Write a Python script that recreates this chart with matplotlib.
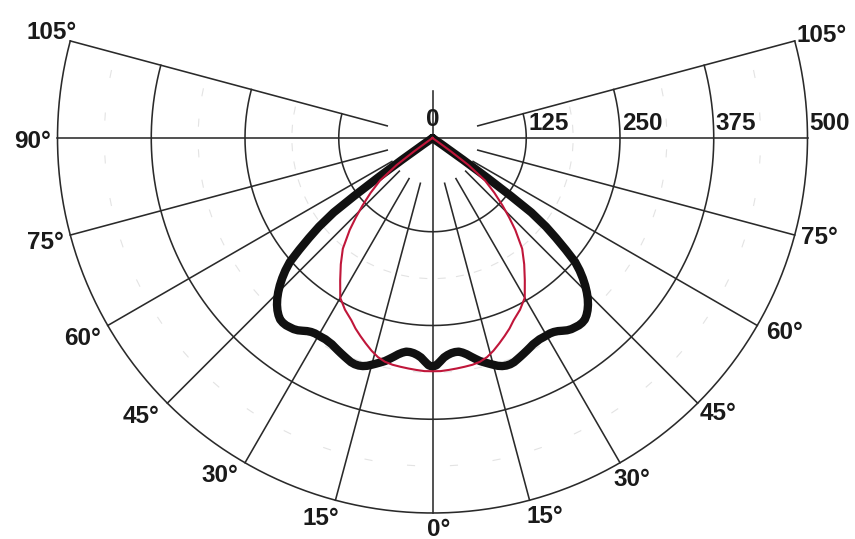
import numpy as np
import matplotlib
matplotlib.use("Agg")
import matplotlib.pyplot as plt

# photometric curves, gamma (deg from nadir) -> cd/klm
black_ang = [0, 1, 2, 3, 4, 5, 6, 7, 8, 9, 10, 11, 12, 13, 14, 15, 16, 17, 18, 19, 20,
             21, 22, 23, 24, 25, 26, 27, 28, 29, 30, 31, 32, 33, 34, 35, 36, 37, 38, 39, 40,
             41, 42, 43, 44, 45, 46, 47, 48, 49, 50, 51, 52, 53, 53.5, 54, 54.5, 55, 90]
black_val = [305, 303, 298, 293, 290, 288, 287, 287, 289, 292, 296, 300, 304, 307, 310, 313, 316, 318, 319, 319, 318,
             316, 314, 312, 310, 308, 306, 305, 304, 304, 304, 304, 305, 307, 310, 313, 315, 316, 317, 317, 316,
             313, 309, 304, 298, 291, 283, 274, 264, 252, 232, 212, 192, 165, 130, 90, 50, 15, 0]

red_ang = [0, 2, 4, 6, 8, 10, 12, 14, 16, 18, 20, 22, 24, 27, 30, 33, 36, 39, 42, 44, 46,
           48.5, 51, 53, 54, 54.5, 90]
red_val = [311, 311, 310, 309, 308, 307, 305, 301, 295, 288, 281, 274, 266, 257, 246, 226, 208, 190, 165, 147, 130,
           110, 90, 60, 30, 10, 0]

rings = [125, 250, 375, 500]
ring_labels = ["125", "250", "375", "500"]
spokes = [105, 90, 75, 60, 45, 30, 15, 0]
spoke_labels = ["105°", "90°", "75°", "60°", "45°", "30°", "15°", "0°"]

# faint marks inside the grid cells
mark_r = [187.5, 312.5, 437.5]
mark_ang = np.arange(-101.25, 102, 7.5)

# label offsets from spoke ends, in pixels (x right, y down)
right_off = {105: (27, -5), 75: (25, 2), 60: (27, 7), 45: (20, 10), 30: (12, 17), 15: (15, 16), 0: (6, 16)}
left_off = {105: (-19, -8), 90: (-25, 4), 75: (-25, 7), 60: (-25, 13), 45: (-26, 13), 30: (-25, 13), 15: (-15, 18)}

k = 500 / 375.0  # data units per pixel
cx, cy = 432.5, 138

fig = plt.figure(figsize=(8.55, 5.39), dpi=100)
ax = fig.add_axes([0, 0, 1, 1])
ax.set_xlim(-cx * k, (855 - cx) * k)
ax.set_ylim(-(539 - cy) * k, cy * k)
ax.axis("off")


def xy(g, r):
    g = np.radians(np.asarray(g, dtype=float))
    r = np.asarray(r, dtype=float)
    return r * np.sin(g), -r * np.cos(g)


grid_kw = dict(color="#2a2a2a", lw=1.15, zorder=1)

# rings
gg = np.linspace(-105, 105, 400)
for r in rings:
    x, y = xy(gg, np.full_like(gg, r))
    ax.plot(x, y, **grid_kw)

# spokes
for s in spokes:
    for sign in (1, -1):
        if s == 0 and sign == -1:
            continue
        r0 = 0 if s in (0, 90) else 62.5
        x, y = xy([sign * s, sign * s], [r0, 500])
        ax.plot(x, y, **grid_kw)
x, y = xy([180, 180], [0, 62.5])
ax.plot(x, y, **grid_kw)

# faint dashes
for r in mark_r:
    for a in mark_ang:
        half = 3.5 * k / r * 180 / np.pi
        x, y = xy([a - half, a + half], [r, r])
        ax.plot(x, y, color="#e3e3e3", lw=0.8, zorder=0)


# curves, mirrored on both sides
def full(ang, val):
    a = np.array(ang, dtype=float)
    v = np.array(val, dtype=float)
    return np.concatenate([-a[::-1], a[1:]]), np.concatenate([v[::-1], v[1:]])


ga, va = full(black_ang, black_val)
x, y = xy(ga, va)
ax.plot(x, y, color="#111111", lw=6.0, solid_joinstyle="round", solid_capstyle="round", zorder=3)

ga, va = full(red_ang, red_val)
x, y = xy(ga, va)
ax.plot(x, y, color="#c0163a", lw=1.5, zorder=4)

font = dict(family="Liberation Sans", fontsize=17.5, fontweight="bold", color="#1a1a1a")

# spoke labels
for s, lab in zip(spokes, spoke_labels):
    ex, ey = xy(s, 500)
    if s in right_off:
        dx, dy = right_off[s]
        ax.text(ex + dx * k, ey - dy * k, lab, ha="center", va="center", **font)
    if s in left_off:
        dx, dy = left_off[s]
        ax.text(-ex + dx * k, ey - dy * k, lab, ha="center", va="center", **font)

# ring labels along the horizontal axis
for r, lab in zip(rings, ring_labels):
    ax.text(r + 2 * k, 3 * k, lab, ha="left", va="bottom", **font)
ax.text(0, 19 * k, "0", ha="center", va="center", **font)

fig.savefig("out.png", dpi=100)
